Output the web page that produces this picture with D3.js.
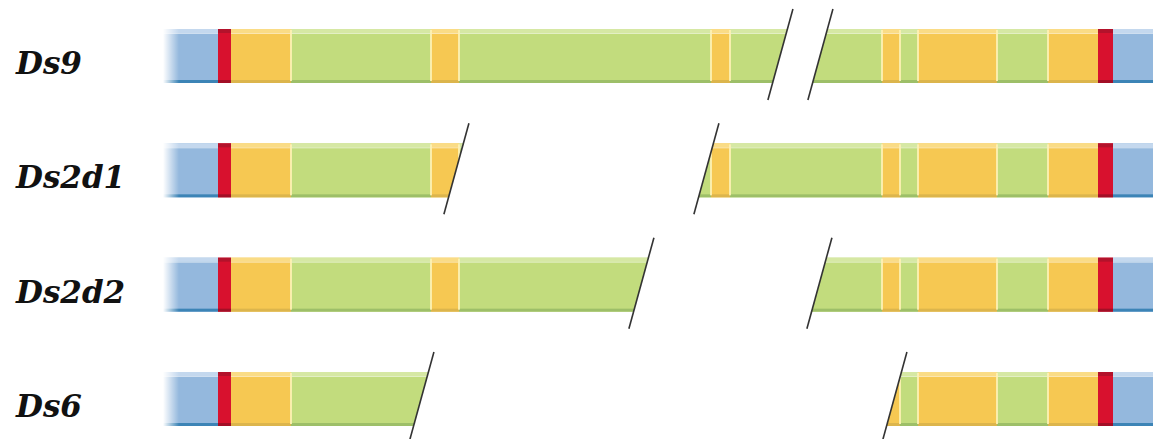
<!DOCTYPE html>
<html><head><meta charset="utf-8">
<script src="https://cdn.jsdelivr.net/npm/d3@7"></script>
<style>html,body{margin:0;padding:0;background:#fff;} svg{display:block;}</style>
</head><body>
<script>
// ---- data ----
const rows = ["Ds9", "Ds2d1", "Ds2d2", "Ds6"];
// shared gene structure: segment boundaries (gene units) and segment kinds
const boundaries = [0, 55, 68, 128, 268, 296, 548, 567, 719, 737, 755, 834, 885, 935, 950, 1000];
const kinds = ["blue", "red", "yellow", "green", "yellow", "green", "yellow", "green",
               "yellow", "green", "yellow", "green", "yellow", "red", "blue"];
// per-row deleted / broken region (gene units, at bar centre)
const cutLeft  = [617, 293, 478, 258];
const cutRight = [657, 543, 656, 731];

// ---- layout ----
const W = 1153, H = 439;
const x = d3.scaleLinear().domain([0, 990]).range([163, 1153]);
const y = d3.scalePoint().domain(rows).range([56, 399]);
const barH = 54;
const slope = 0.275;
const palette = {
  blue:   {main: "#94b8dd", light: "#c4d8ee", dark: "#3c84b6"},
  red:    {main: "#d8112e", light: "#b3122b", dark: "#a20f26"},
  yellow: {main: "#f6c852", light: "#fadc86", dark: "#dcb54c"},
  green:  {main: "#c2dc7d", light: "#d6e8a4", dark: "#9dbf68"}
};

const segments = kinds.map((k, i) => ({kind: k, start: boundaries[i], end: boundaries[i + 1], idx: i}));

const svg = d3.select("body").append("svg").attr("width", W).attr("height", H);
const defs = svg.append("defs");

// left fade of the first blue segment
const grad = defs.append("linearGradient").attr("id", "fade")
  .attr("gradientUnits", "userSpaceOnUse")
  .attr("x1", x(0)).attr("x2", x(0) + 16).attr("y1", 0).attr("y2", 0);
grad.append("stop").attr("offset", 0).attr("stop-color", "#fff").attr("stop-opacity", 1);
grad.append("stop").attr("offset", 1).attr("stop-color", "#fff").attr("stop-opacity", 0);

const slashX = (xc, cy, yy) => xc - slope * (yy - cy);

rows.forEach((name, i) => {
  const cy = y(name);
  const top = cy - barH / 2, bot = cy + barH / 2;
  const a = x(cutLeft[i]), b = x(cutRight[i]);
  const yt = top - 60, yb = bot + 60;

  const cp = defs.append("clipPath").attr("id", "clip" + i);
  cp.append("polygon").attr("points", [
    [0, yt], [slashX(a, cy, yt), yt], [slashX(a, cy, yb), yb], [0, yb]
  ].map(p => p.join(",")).join(" "));
  cp.append("polygon").attr("points", [
    [slashX(b, cy, yt), yt], [W + 20, yt], [W + 20, yb], [slashX(b, cy, yb), yb]
  ].map(p => p.join(",")).join(" "));

  const g = svg.append("g").attr("clip-path", `url(#clip${i})`);

  const seg = g.selectAll("g.seg").data(segments).join("g").attr("class", "seg");
  seg.append("rect")
    .attr("x", d => x(d.start)).attr("width", d => x(d.end) - x(d.start))
    .attr("y", top).attr("height", barH)
    .attr("fill", d => palette[d.kind].main);
  seg.append("rect")
    .attr("x", d => x(d.start)).attr("width", d => x(d.end) - x(d.start))
    .attr("y", top).attr("height", 4)
    .attr("fill", d => palette[d.kind].light);
  seg.filter(d => d.kind !== "red").append("rect")
    .attr("x", d => x(d.start)).attr("width", d => x(d.end) - x(d.start))
    .attr("y", top + 4).attr("height", 1)
    .attr("fill", "#ffffff").attr("opacity", 0.55);
  seg.append("rect")
    .attr("x", d => x(d.start)).attr("width", d => x(d.end) - x(d.start))
    .attr("y", bot - 3).attr("height", 3)
    .attr("fill", d => palette[d.kind].dark);

  // pale separators between yellow/green blocks
  g.selectAll("rect.sep")
    .data(segments.filter((d, j) => j > 0 && (d.kind === "yellow" || d.kind === "green") &&
          (segments[j - 1].kind === "yellow" || segments[j - 1].kind === "green")))
    .join("rect").attr("class", "sep")
    .attr("x", d => x(d.start) - 1).attr("width", 2)
    .attr("y", top + 1).attr("height", barH - 3)
    .attr("fill", "#fdf1b4").attr("opacity", 0.9);

  // fade on the left end
  g.append("rect").attr("x", x(0) - 1).attr("width", 18)
    .attr("y", top - 1).attr("height", barH + 2).attr("fill", "url(#fade)");

  // break slashes
  [a, b].forEach(c => {
    svg.append("line")
      .attr("x1", slashX(c, cy, cy - 47)).attr("y1", cy - 47)
      .attr("x2", slashX(c, cy, cy + 44)).attr("y2", cy + 44)
      .attr("stroke", "#333").attr("stroke-width", 1.6);
  });

  // label
  svg.append("text")
    .attr("x", 16).attr("y", cy + 18)
    .attr("font-family", "'DejaVu Serif', serif")
    .attr("font-weight", "bold").attr("font-style", "italic")
    .attr("font-size", 31).attr("fill", "#111")
    .text(name);
});
</script>
</body></html>
